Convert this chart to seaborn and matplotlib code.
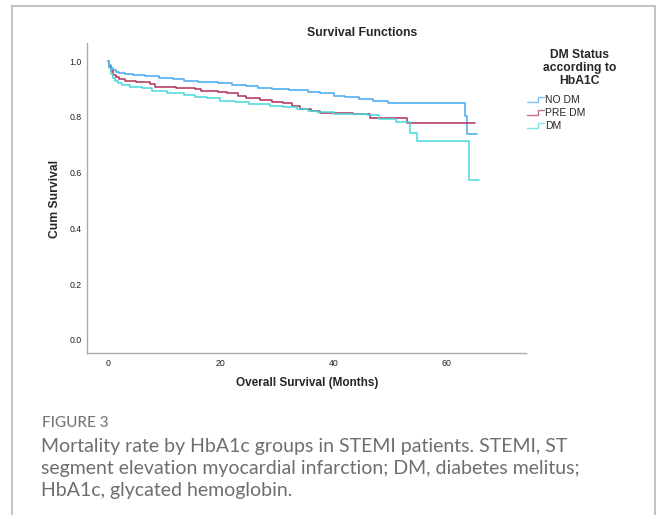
import numpy as np
import pandas as pd
import matplotlib
matplotlib.use('Agg')
import matplotlib.pyplot as plt
import seaborn as sns
from matplotlib.lines import Line2D
from matplotlib.legend_handler import HandlerBase
from matplotlib.patches import Rectangle

# ─────────────────────────────────────────
# DATOS (Kaplan-Meier)
# ─────────────────────────────────────────
groups = ['NO DM', 'PRE DM', 'DM']

no_dm_t = [0, 0.2, 0.5, 0.9, 1.4, 2.0, 3.0, 4.5, 6.5, 9.0, 11.5, 13.5, 16.0, 19.5,
           22.0, 24.5, 26.5, 29.0, 32.0, 35.5, 37.5, 40.0, 42.0, 44.5, 47.0, 49.5,
           63.2, 63.6, 65.3]
no_dm_s = [1.0, 0.985, 0.975, 0.968, 0.962, 0.957, 0.953, 0.949, 0.945, 0.941, 0.935,
           0.928, 0.924, 0.920, 0.915, 0.910, 0.905, 0.900, 0.895, 0.890, 0.884, 0.876,
           0.870, 0.865, 0.858, 0.850, 0.803, 0.737, 0.737]

pre_dm_t = [0, 0.2, 0.5, 0.9, 1.4, 2.0, 3.0, 5.0, 7.5, 8.3, 12.0, 15.5, 16.5, 19.5,
            21.0, 23.0, 24.5, 27.0, 29.0, 31.0, 32.5, 34.0, 36.0, 37.5, 43.4, 46.4,
            53.0, 65.0]
pre_dm_s = [1.0, 0.98, 0.965, 0.950, 0.942, 0.935, 0.930, 0.925, 0.918, 0.908, 0.904,
            0.900, 0.892, 0.888, 0.884, 0.876, 0.868, 0.862, 0.855, 0.848, 0.840, 0.830,
            0.822, 0.815, 0.810, 0.797, 0.777, 0.777]

dm_t = [0, 0.2, 0.5, 0.9, 1.3, 1.8, 2.5, 4.0, 6.0, 7.8, 10.5, 13.5, 15.5, 17.5, 19.8,
        22.5, 25.0, 28.7, 31.0, 33.4, 35.5, 37.0, 40.0, 45.8, 48.0, 51.0, 53.5, 54.7,
        63.9, 65.7]
dm_s = [1.0, 0.975, 0.955, 0.940, 0.930, 0.922, 0.915, 0.908, 0.902, 0.892, 0.886,
        0.880, 0.872, 0.866, 0.858, 0.852, 0.846, 0.840, 0.835, 0.828, 0.822, 0.816,
        0.812, 0.808, 0.794, 0.780, 0.742, 0.714, 0.573, 0.573]

x_ticks = [0, 20, 40, 60]
y_ticks = [0.0, 0.2, 0.4, 0.6, 0.8, 1.0]

caption_lines = ['Mortality rate by HbA1c groups in STEMI patients. STEMI, ST',
                 'segment elevation myocardial infarction; DM, diabetes melitus;',
                 'HbA1c, glycated hemoglobin.']

colores = {'NO DM': '#45a8f2', 'PRE DM': '#b0305c', 'DM': '#45d8dc'}

df = pd.concat([
    pd.DataFrame({'months': no_dm_t, 'surv': no_dm_s, 'grupo': 'NO DM'}),
    pd.DataFrame({'months': pre_dm_t, 'surv': pre_dm_s, 'grupo': 'PRE DM'}),
    pd.DataFrame({'months': dm_t, 'surv': dm_s, 'grupo': 'DM'}),
], ignore_index=True)

# ─────────────────────────────────────────
# FIGURA
# ─────────────────────────────────────────
sns.set_style('white')
plt.rcParams['font.family'] = ['Liberation Sans', 'DejaVu Sans']

fig = plt.figure(figsize=(6.56, 5.15), dpi=100)
fig.patch.set_facecolor('white')
ax = fig.add_axes([0.1326, 0.3146, 0.6692, 0.6019])

sns.lineplot(data=df, x='months', y='surv', hue='grupo', hue_order=groups,
             palette=colores, estimator=None, drawstyle='steps-post',
             linewidth=1.1, legend=False, ax=ax)

ax.set_xlim(-3.7, 74.0)
ax.set_ylim(-0.047, 1.065)
ax.set_xticks(x_ticks)
ax.set_xticklabels([str(t) for t in x_ticks])
ax.set_yticks(y_ticks)
ax.set_yticklabels([f'{t:.1f}' for t in y_ticks])
ax.tick_params(length=0, labelsize=6.3, colors='#222222', pad=4)
for s in ['top', 'right']:
    ax.spines[s].set_visible(False)
for s in ['left', 'bottom']:
    ax.spines[s].set_color('#aaaaaa')
    ax.spines[s].set_linewidth(1.0)
ax.set_xlabel('')
ax.set_ylabel('')

fig.text(0.552, 0.936, 'Survival Functions', ha='center', va='center',
         fontsize=8.8, fontweight='bold')
fig.text(0.469, 0.256, 'Overall Survival (Months)', ha='center', va='center',
         fontsize=8.5, fontweight='bold')
fig.text(0.0845, 0.6136, 'Cum Survival', ha='center', va='center', rotation=90,
         fontsize=8.7, fontweight='bold')

# titulo de la leyenda
fig.text(580 / 656, 1 - 49 / 515, 'DM Status\naccording to\nHbA1C', ha='center',
         va='top', fontsize=8.7, fontweight='bold', linespacing=1.1)


# leyenda con iconos en escalón
class StepHandler(HandlerBase):
    def create_artists(self, legend, orig_handle, xdescent, ydescent,
                       width, height, fontsize, trans):
        x0 = -xdescent
        y0 = -ydescent
        xs = [x0, x0 + width * 0.65, x0 + width * 0.65, x0 + width]
        ys = [y0 + height * 0.15, y0 + height * 0.15, y0 + height * 0.85, y0 + height * 0.85]
        ln = Line2D(xs, ys, color=orig_handle.get_color(), lw=1.0, alpha=0.7)
        ln.set_transform(trans)
        return [ln]


handles = [Line2D([], [], color=colores[g]) for g in groups]
leg = fig.legend(handles, groups, loc='upper left',
                 bbox_to_anchor=(527 / 656, 1 - 95 / 515),
                 frameon=False, fontsize=7.5, handlelength=1.6, handletextpad=0.15,
                 labelspacing=0.3, borderaxespad=0, borderpad=0,
                 handler_map={Line2D: StepHandler()})

# pie de figura
fig.text(42 / 656, 1 - 427 / 515, 'FIGURE 3', ha='left', va='baseline', fontsize=11,
         color='#777777', fontweight='medium', family=['Lato', 'DejaVu Sans'])
for i, linea in enumerate(caption_lines):
    fig.text(41 / 656, 1 - (452 + 22 * i) / 515, linea, ha='left', va='baseline',
             fontsize=14, color='#6e6e6e', family=['Lato', 'DejaVu Sans'])

# marco gris
fig.patches.append(Rectangle((12 / 656, -0.05), (655 - 12) / 656, 1.05 - 6 / 515,
                             transform=fig.transFigure, fill=False,
                             edgecolor='#c4c4c8', linewidth=1.5))

plt.savefig('out.png', dpi=100, facecolor='white')
plt.close()
